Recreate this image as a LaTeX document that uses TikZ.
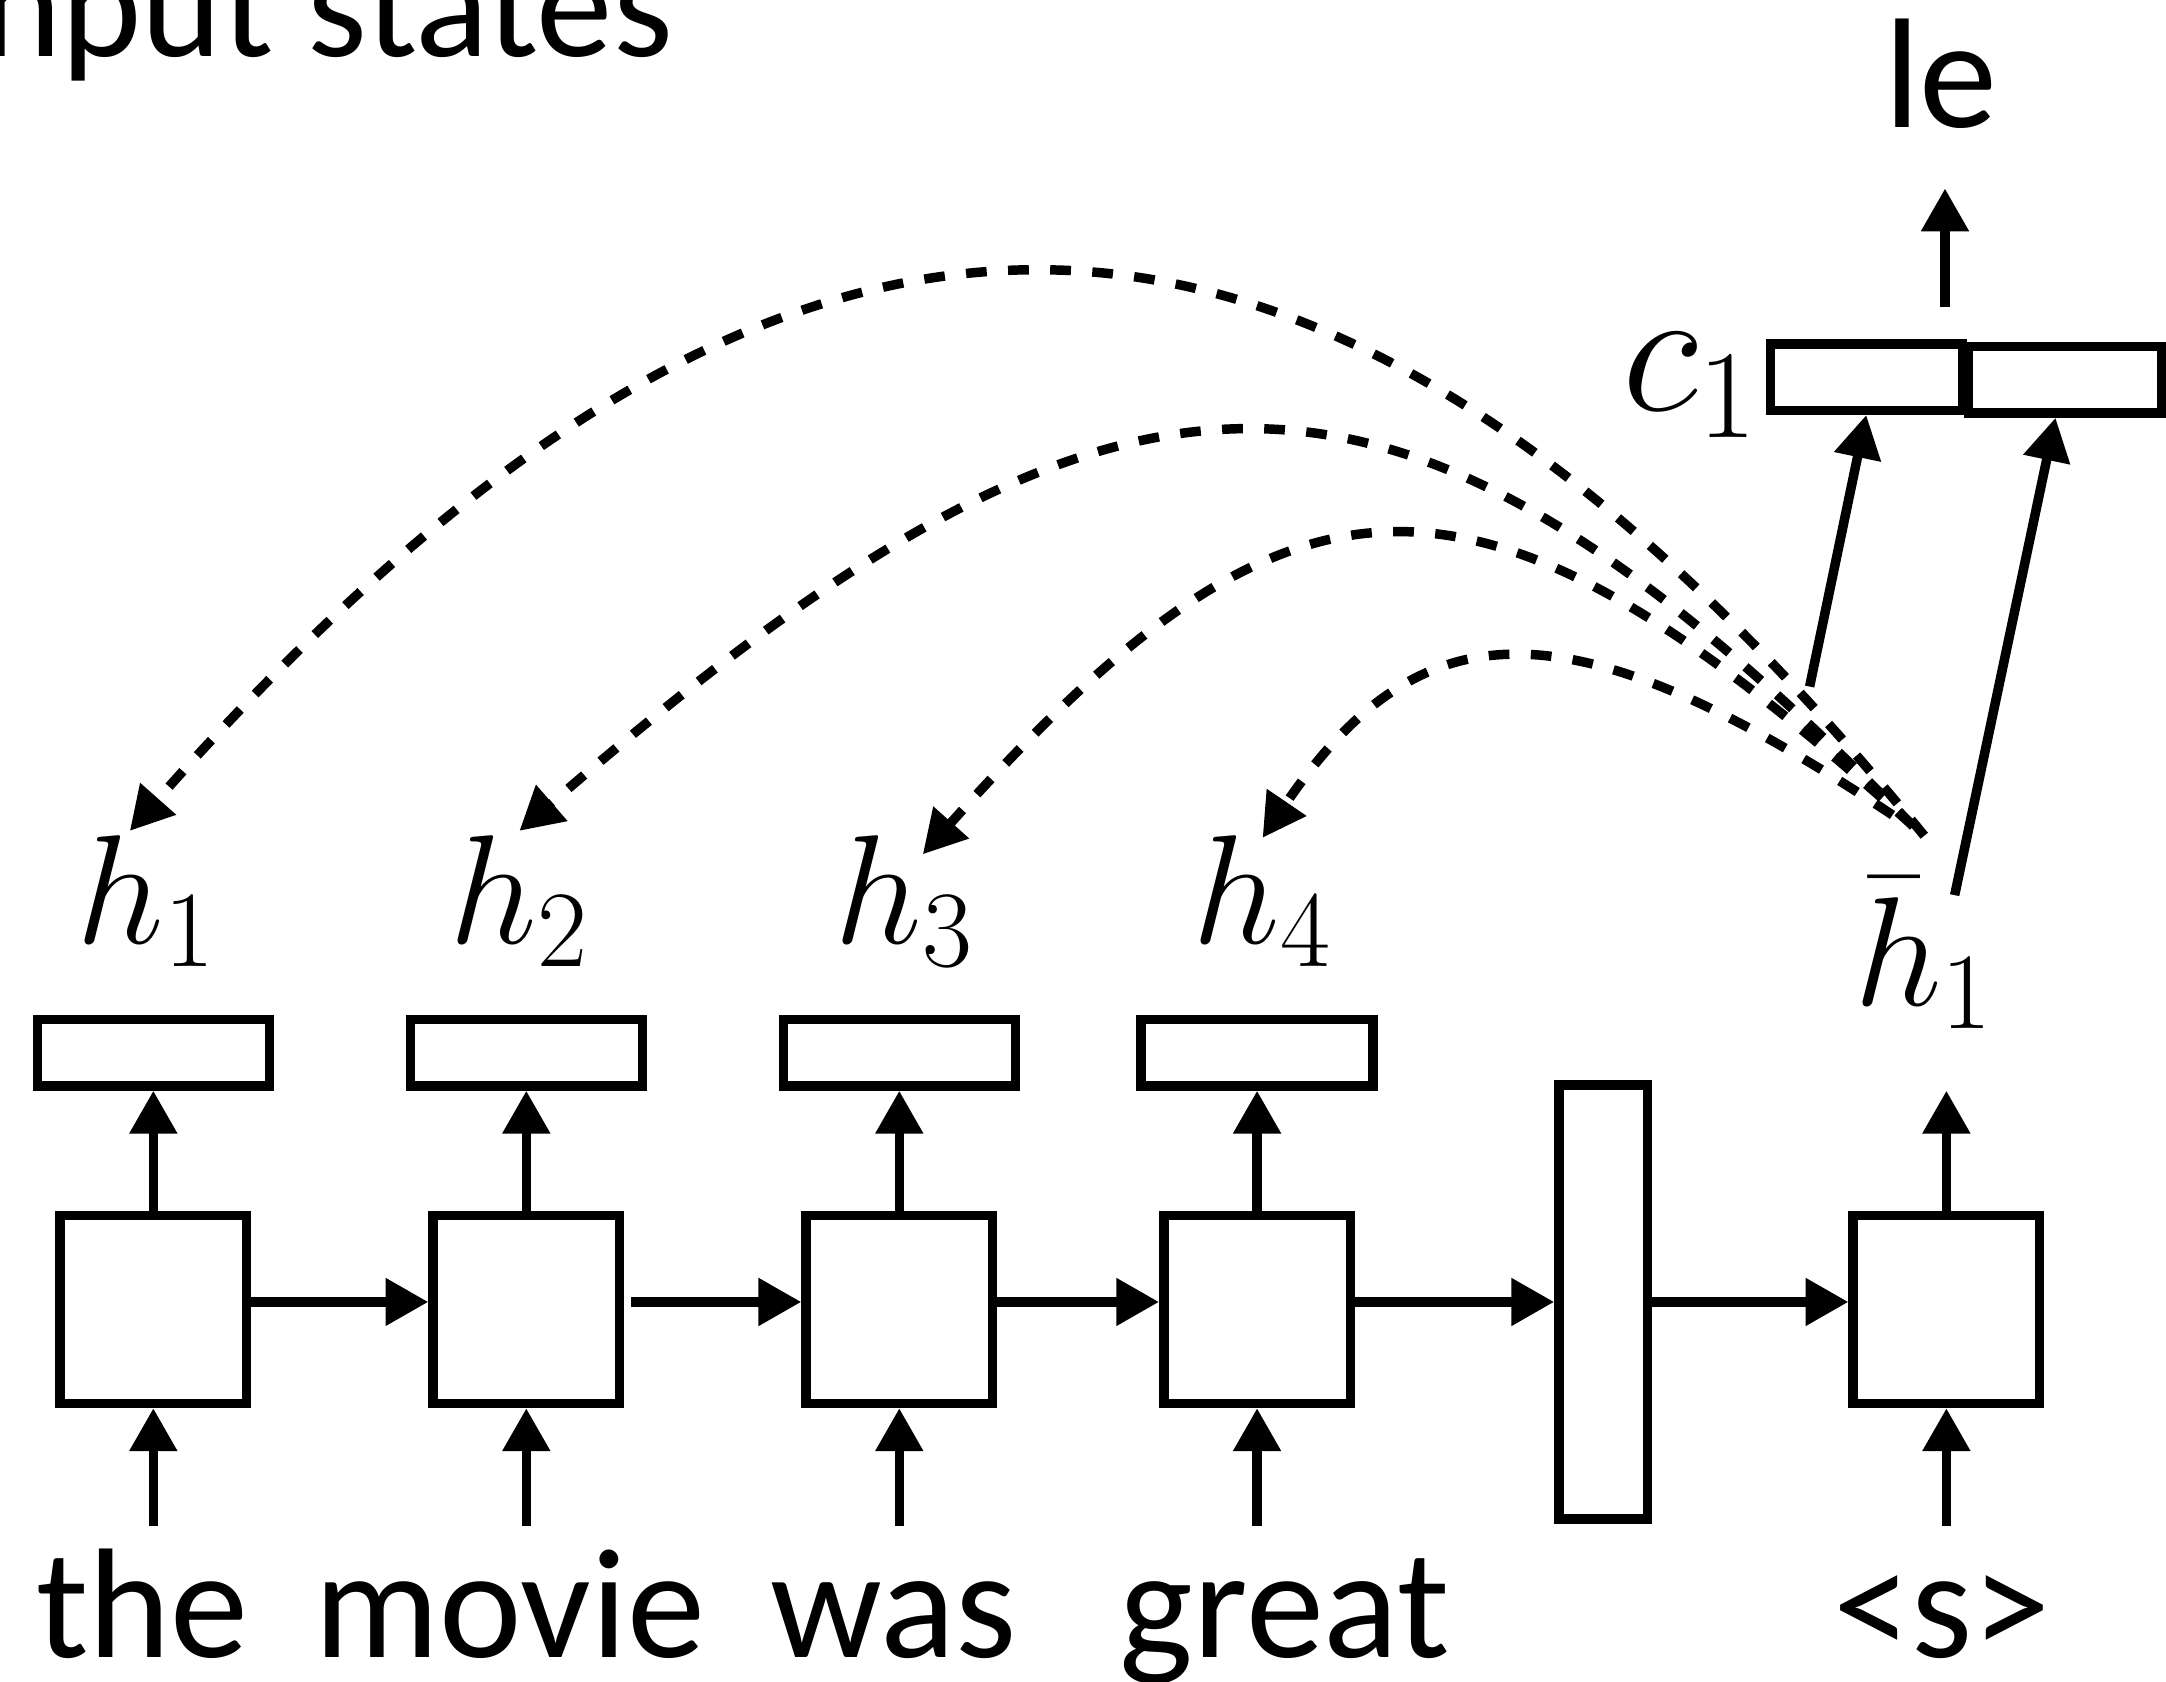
\RequirePackage{fix-cm}
\documentclass[tikz,border=0pt]{standalone}
\usepackage{fontspec}
\newfontfamily\calib{Carlito}
\usetikzlibrary{arrows.meta,positioning}

\begin{document}
\begin{tikzpicture}[
  line width=1.95pt,
  cell/.style={draw,minimum width=1.35cm,minimum height=1.36cm,inner sep=0pt},
  vec/.style={draw,minimum width=1.68cm,minimum height=0.48cm,inner sep=0pt},
  word/.style={font=\calib\fontsize{32.2}{38}\selectfont,inner sep=0pt,text height=0.92cm,text depth=0.25cm,anchor=base},
  lab/.style={font=\fontsize{32}{38}\selectfont,inner sep=0pt,anchor=base},
  arr/.style={-{Triangle[length=0.31cm,width=0.33cm]}},
  att/.style={arr,dash pattern=on 0.15cm off 0.155cm}]

\useasboundingbox (0,0) rectangle (15.68,12.17);

% title, cut at the left edge
\node[font=\calib\fontsize{31.5}{38}\selectfont,inner sep=0pt,anchor=base west] (title) at (-0.17,11.76) {nput states};

% encoder
\node[cell] (e1) at (1.11,2.69) {};
\node[cell] (e2) at (3.81,2.69) {};
\node[cell] (e3) at (6.51,2.69) {};
\node[cell] (e4) at (9.10,2.69) {};
\node[draw,minimum width=0.64cm,minimum height=3.14cm,inner sep=0pt] (mid) at (11.605,2.745) {};
\node[cell] (d1) at (14.09,2.69) {};

\node[vec,above=0.87cm of e1] (v1) {};
\node[vec,above=0.87cm of e2] (v2) {};
\node[vec,above=0.87cm of e3] (v3) {};
\node[vec,above=0.87cm of e4] (v4) {};

% words
\node[word] (w1) at (1.03,0.17) {the};
\node[word] (w2) at (3.69,0.17) {movie};
\node[word] (w3) at (6.47,0.17) {was};
\node[word] (w4) at (9.30,0.17) {great};
\node[word] (w5) at (14.06,0.17) {<s>};

% labels
\node[lab] (l1) at (1.06,5.34) {$h_1$};
\node[lab] (l2) at (3.76,5.34) {$h_2$};
\node[lab] (l3) at (6.55,5.34) {$h_3$};
\node[lab] (l4) at (9.14,5.34) {$h_4$};
\node[lab] (hb) at (13.93,4.89) {$\bar{h}_1$};

% context + decoder output
\node[draw,minimum width=1.39cm,minimum height=0.48cm,inner sep=0pt] (ca) at (13.51,9.44) {};
\node[draw,minimum width=1.40cm,minimum height=0.48cm,inner sep=0pt] (cb) at (14.95,9.42) {};
\node[lab,font=\fontsize{37}{44}\selectfont] (lc) at (12.24,9.20) {$c_1$};
\node[word] (y1) at (14.05,11.25) {le};

\foreach \i in {1,...,4} {
  \draw[arr] (e\i |- w\i.north) -- (e\i.south);
  \draw[arr] (e\i.north) -- (v\i.south);
}
\draw[arr] (d1 |- w5.north) -- (d1.south);

\draw[arr] (e1.east |- mid) -- (e2.west |- mid);
\draw[arr,shorten <=0.05cm] (e2.east |- mid) -- (e3.west |- mid);
\draw[arr] (e3.east |- mid) -- (e4.west |- mid);
\draw[arr] (e4.east |- mid) -- (mid.west);
\draw[arr] (mid.east) -- (d1.west |- mid);

\coordinate[above=0.87cm of d1] (dout);
\draw[arr] (d1.north) -- (dout);

\coordinate (q1) at (13.10,7.20);
\coordinate (q2) at (14.15,5.69);
\coordinate (q3) at (14.08,9.95);
\draw[arr] (q1) -- (ca.south);
\draw[arr] (q2) -- ([xshift=-0.07cm]cb.south);
\draw[arr,shorten >=0.16cm] (q3) -- (q3 |- y1.south);

% attention
\coordinate (a1) at (13.93,6.12);
\coordinate (a2) at (13.85,6.19);
\coordinate (a4) at (13.70,6.27);
\draw[att] (a1) .. controls (9.50,11.54) and (5.70,11.54) .. ([xshift=-0.12cm]l1.north);
\draw[att] (a2) .. controls (10.10,10.00) and (8.20,10.00) .. (l2.north);
\draw[att] (a2) .. controls (10.70,9.03) and (9.40,9.03) .. ([xshift=0.13cm,yshift=-0.17cm]l3.north);
\draw[att] (a4) .. controls (11.38,7.81) and (10.30,7.81) .. ([yshift=-0.05cm]l4.north);
\end{tikzpicture}
\end{document}
